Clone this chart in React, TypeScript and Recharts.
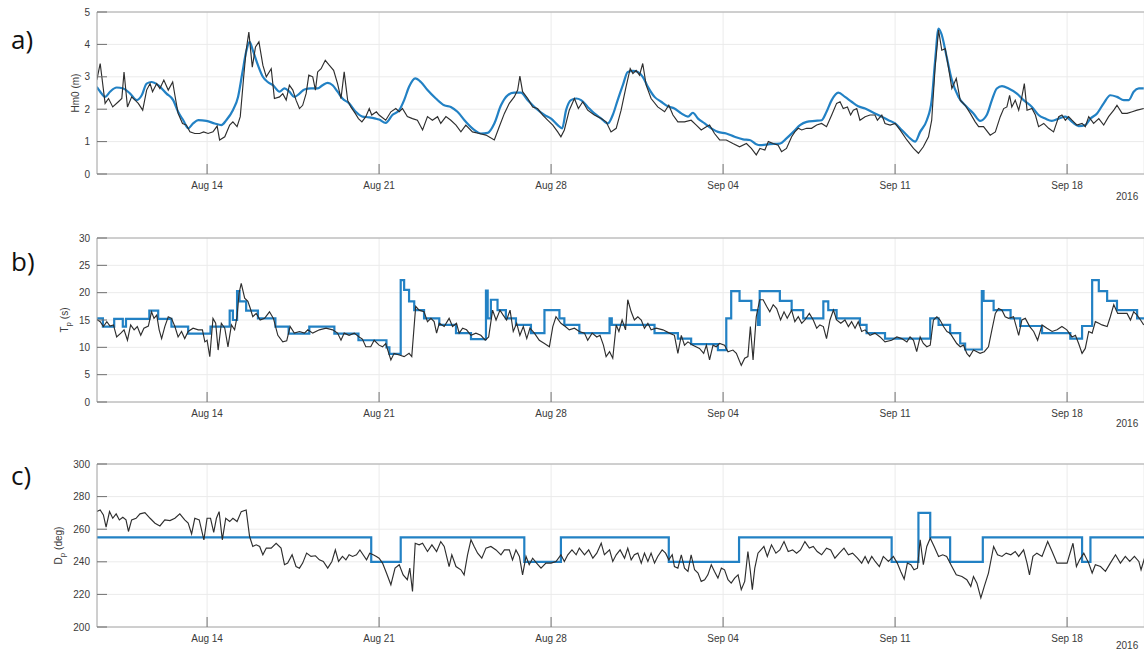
import { LineChart, Line, XAxis, YAxis, CartesianGrid, ReferenceLine } from 'recharts';

// time axis: days since Aug 1 2016 00:00
const weekTicks = [13, 20, 27, 34, 41, 48];
const weekLabels = ['Aug 14', 'Aug 21', 'Aug 28', 'Sep 04', 'Sep 11', 'Sep 18'];
const timeDomain = [8.52, 51.13];

const hsTicks = [0, 1, 2, 3, 4, 5];
const tpTicks = [0, 5, 10, 15, 20, 25, 30];
const dpTicks = [200, 220, 240, 260, 280, 300];

// a) significant wave height, measured (black) and modelled (blue)
const hsObs = [
  [8.51, 2.9], [8.65, 3.41], [8.85, 2.18], [8.99, 2.33], [9.16, 2.07], [9.39, 2.23], [9.53, 2.33], [9.62, 3.15],
  [9.76, 2.07], [9.93, 2.38], [10.07, 2.28], [10.2, 2.18], [10.38, 1.97], [10.54, 2.59], [10.68, 2.79], [10.78, 2.54],
  [10.95, 2.79], [11.08, 2.64], [11.24, 2.9], [11.42, 2.59], [11.6, 2.84], [11.69, 2.43], [11.82, 1.87], [12.0, 1.56],
  [12.16, 1.51], [12.3, 1.3], [12.5, 1.25], [12.7, 1.25], [12.86, 1.3], [13.04, 1.25], [13.24, 1.3], [13.41, 1.48],
  [13.51, 1.05], [13.72, 1.15], [13.92, 1.51], [14.05, 1.61], [14.22, 1.46], [14.35, 1.77], [14.49, 3.0], [14.59, 3.82],
  [14.7, 4.38], [14.84, 3.3], [14.97, 3.92], [15.11, 4.08], [15.27, 3.36], [15.41, 3.0], [15.61, 3.25], [15.74, 2.33],
  [15.95, 2.38], [16.08, 2.48], [16.22, 2.28], [16.35, 2.74], [16.49, 2.59], [16.62, 2.28], [16.76, 2.02], [16.89, 2.12],
  [17.03, 2.48], [17.14, 3.05], [17.3, 3.0], [17.41, 2.59], [17.5, 3.15], [17.64, 3.25], [17.81, 3.51], [17.97, 3.36],
  [18.15, 3.2], [18.31, 2.79], [18.45, 2.33], [18.58, 3.15], [18.72, 2.28], [18.85, 2.07], [19.03, 1.87], [19.16, 1.71],
  [19.3, 1.61], [19.46, 1.77], [19.6, 2.02], [19.7, 1.82], [19.89, 1.92], [20.0, 1.82], [20.27, 1.66], [20.48, 1.92],
  [20.68, 2.02], [20.82, 1.92], [20.95, 2.02], [21.15, 1.77], [21.36, 1.71], [21.56, 1.66], [21.77, 1.36], [21.97, 1.77],
  [22.17, 1.66], [22.38, 1.77], [22.51, 1.56], [22.72, 1.77], [22.92, 1.66], [23.13, 1.51], [23.33, 1.3], [23.53, 1.51],
  [23.8, 1.3], [24.08, 1.25], [24.35, 1.2], [24.69, 1.05], [24.89, 1.46], [25.1, 1.87], [25.3, 2.18], [25.5, 2.38],
  [25.64, 2.59], [25.73, 3.02], [25.84, 2.54], [26.05, 2.33], [26.25, 2.07], [26.45, 2.02], [26.66, 1.82], [26.86, 1.66],
  [27.07, 1.51], [27.27, 1.3], [27.4, 1.15], [27.54, 1.36], [27.74, 1.97], [27.95, 2.33], [28.11, 2.02], [28.29, 2.23],
  [28.49, 1.97], [28.76, 1.82], [29.04, 1.71], [29.24, 1.61], [29.44, 1.3], [29.65, 1.41], [29.85, 1.97], [30.05, 2.69],
  [30.22, 3.25], [30.33, 3.1], [30.46, 3.2], [30.6, 3.05], [30.73, 3.41], [30.87, 2.74], [31.07, 2.33], [31.34, 2.07],
  [31.62, 1.92], [31.79, 2.12], [31.96, 1.82], [32.16, 1.61], [32.43, 1.61], [32.7, 1.66], [32.91, 1.51], [33.11, 1.36],
  [33.32, 1.46], [33.45, 1.51], [33.65, 1.25], [33.86, 1.05], [34.13, 1.05], [34.4, 0.94], [34.67, 0.84], [34.95, 0.94],
  [35.15, 0.79], [35.35, 0.59], [35.5, 0.79], [35.7, 0.74], [35.84, 1.0], [36.04, 0.94], [36.24, 0.89], [36.38, 0.69],
  [36.58, 0.79], [36.79, 1.15], [36.92, 1.3], [37.06, 1.41], [37.2, 1.36], [37.4, 1.41], [37.6, 1.41], [37.81, 1.51],
  [38.01, 1.56], [38.21, 1.46], [38.42, 1.82], [38.62, 2.18], [38.76, 2.23], [38.89, 2.02], [39.06, 2.07], [39.19, 1.82],
  [39.3, 1.97], [39.44, 2.02], [39.57, 1.66], [39.78, 1.77], [39.98, 1.82], [40.18, 1.82], [40.28, 1.66], [40.46, 1.82],
  [40.59, 1.56], [40.8, 1.51], [41.0, 1.56], [41.2, 1.36], [41.48, 1.05], [41.75, 0.79], [41.95, 0.64], [42.15, 0.84],
  [42.36, 1.15], [42.49, 1.66], [42.63, 3.3], [42.77, 4.44], [42.9, 3.82], [43.04, 3.87], [43.17, 3.3], [43.31, 2.64],
  [43.49, 2.95], [43.65, 2.28], [43.85, 2.12], [44.06, 1.87], [44.26, 1.61], [44.4, 1.46], [44.6, 1.46], [44.87, 1.2],
  [45.08, 1.3], [45.28, 1.77], [45.42, 2.02], [45.55, 2.07], [45.66, 2.43], [45.75, 2.07], [45.89, 2.28], [46.03, 1.97],
  [46.16, 2.38], [46.26, 2.79], [46.37, 1.97], [46.57, 2.02], [46.71, 1.82], [46.84, 1.46], [47.05, 1.56], [47.25, 1.41],
  [47.45, 1.3], [47.66, 1.77], [47.79, 1.82], [47.93, 1.66], [48.06, 1.77], [48.2, 1.66], [48.4, 1.51], [48.61, 1.56],
  [48.74, 1.46], [48.88, 1.77], [49.08, 1.56], [49.29, 1.71], [49.49, 1.51], [49.69, 1.77], [49.9, 1.97], [50.03, 2.12],
  [50.24, 1.87], [50.44, 1.87], [50.65, 1.92], [50.85, 1.97], [51.12, 2.02],
];

const hsModel = [
  [8.51, 2.69], [8.65, 2.54], [8.85, 2.38], [9.05, 2.54], [9.32, 2.67], [9.59, 2.64], [9.87, 2.48], [10.14, 2.28],
  [10.34, 2.43], [10.54, 2.79], [10.74, 2.84], [11.01, 2.74], [11.35, 2.48], [11.62, 2.28], [11.82, 1.92], [12.03, 1.66],
  [12.23, 1.41], [12.43, 1.56], [12.64, 1.66], [12.97, 1.64], [13.31, 1.56], [13.58, 1.51], [13.78, 1.66], [14.05, 1.97],
  [14.26, 2.38], [14.43, 3.1], [14.59, 3.77], [14.73, 4.08], [14.86, 3.82], [15.07, 3.36], [15.27, 3.0], [15.47, 2.84],
  [15.68, 2.74], [15.95, 2.54], [16.15, 2.64], [16.35, 2.54], [16.55, 2.38], [16.76, 2.48], [16.96, 2.61], [17.23, 2.64],
  [17.5, 2.64], [17.7, 2.74], [17.91, 2.81], [18.11, 2.74], [18.31, 2.54], [18.51, 2.33], [18.78, 2.18], [19.05, 1.92],
  [19.32, 1.77], [19.6, 1.75], [19.86, 1.71], [20.0, 1.68], [20.27, 1.58], [20.54, 1.82], [20.82, 1.97], [21.02, 2.28],
  [21.22, 2.69], [21.47, 2.95], [21.7, 2.84], [21.97, 2.59], [22.31, 2.33], [22.65, 2.12], [22.92, 2.07], [23.19, 1.92],
  [23.53, 1.61], [23.87, 1.36], [24.14, 1.25], [24.42, 1.27], [24.69, 1.56], [24.96, 2.12], [25.23, 2.43], [25.5, 2.51],
  [25.77, 2.51], [26.05, 2.28], [26.39, 2.02], [26.73, 1.82], [27.0, 1.71], [27.27, 1.51], [27.45, 1.41], [27.61, 1.97],
  [27.81, 2.28], [28.02, 2.33], [28.22, 2.28], [28.49, 2.07], [28.76, 1.87], [29.04, 1.71], [29.31, 1.56], [29.51, 1.82],
  [29.71, 2.28], [29.92, 2.74], [30.12, 3.15], [30.33, 3.18], [30.53, 3.15], [30.73, 3.0], [30.94, 2.69], [31.21, 2.38],
  [31.48, 2.23], [31.75, 2.09], [32.02, 2.02], [32.3, 1.87], [32.57, 1.77], [32.77, 1.89], [32.98, 1.71], [33.25, 1.56],
  [33.52, 1.41], [33.79, 1.3], [34.13, 1.25], [34.47, 1.15], [34.81, 1.07], [35.08, 1.05], [35.35, 0.92], [35.5, 0.89],
  [35.9, 0.92], [36.31, 0.94], [36.58, 1.1], [36.86, 1.3], [37.13, 1.51], [37.4, 1.61], [37.74, 1.64], [38.01, 1.66],
  [38.21, 1.92], [38.42, 2.28], [38.69, 2.51], [38.96, 2.38], [39.23, 2.23], [39.5, 2.09], [39.78, 2.02], [40.12, 1.89],
  [40.46, 1.77], [40.73, 1.66], [41.0, 1.56], [41.27, 1.36], [41.54, 1.15], [41.82, 1.0], [42.02, 1.3], [42.29, 1.66],
  [42.49, 2.28], [42.63, 3.51], [42.77, 4.49], [42.9, 4.29], [43.1, 3.61], [43.31, 2.9], [43.58, 2.38], [43.92, 2.07],
  [44.19, 1.87], [44.46, 1.64], [44.73, 1.82], [44.94, 2.28], [45.14, 2.64], [45.35, 2.71], [45.62, 2.64], [45.96, 2.48],
  [46.23, 2.28], [46.57, 2.07], [46.84, 1.82], [47.11, 1.71], [47.38, 1.64], [47.66, 1.71], [47.93, 1.77], [48.2, 1.61],
  [48.47, 1.48], [48.74, 1.51], [48.95, 1.71], [49.22, 1.87], [49.49, 2.18], [49.76, 2.43], [50.03, 2.38], [50.31, 2.28],
  [50.51, 2.28], [50.71, 2.54], [50.92, 2.64], [51.12, 2.64],
];

// b) peak period
const tpObs = [
  [8.51, 15.1], [8.65, 14.7], [8.78, 13.8], [8.92, 14.7], [9.05, 13.9], [9.19, 14.1], [9.32, 11.9], [9.49, 12.6],
  [9.62, 13.2], [9.76, 11.3], [9.89, 14.1], [10.03, 13.2], [10.16, 13.8], [10.3, 12.2], [10.43, 13.5], [10.61, 13.9],
  [10.74, 16.5], [10.84, 15.3], [10.95, 15.9], [11.05, 13.2], [11.15, 11.6], [11.28, 13.8], [11.42, 15.6], [11.55, 15.3],
  [11.69, 13.8], [11.82, 11.9], [11.96, 12.9], [12.09, 11.6], [12.23, 12.9], [12.43, 13.5], [12.64, 13.2], [12.81, 13.2],
  [12.91, 11.0], [13.0, 11.3], [13.11, 8.3], [13.24, 15.3], [13.35, 14.4], [13.45, 9.5], [13.58, 14.4], [13.72, 13.5],
  [13.85, 10.1], [13.99, 14.1], [14.12, 13.2], [14.22, 15.6], [14.3, 19.9], [14.39, 21.7], [14.53, 19.0], [14.66, 18.4],
  [14.76, 17.1], [14.86, 15.6], [15.0, 16.2], [15.16, 15.0], [15.34, 15.3], [15.54, 16.5], [15.7, 15.3], [15.88, 12.2],
  [16.08, 11.0], [16.24, 11.2], [16.38, 13.8], [16.55, 12.6], [16.76, 12.9], [16.96, 12.6], [17.1, 13.2], [17.3, 12.6],
  [17.57, 13.2], [17.84, 13.5], [18.11, 13.2], [18.31, 12.6], [18.45, 11.3], [18.58, 12.6], [18.78, 12.2], [18.99, 12.6],
  [19.19, 11.9], [19.32, 11.5], [19.46, 10.1], [19.66, 10.1], [19.8, 11.3], [20.0, 10.4], [20.14, 10.1], [20.27, 10.7],
  [20.48, 7.7], [20.61, 8.9], [20.82, 8.6], [21.02, 8.3], [21.22, 8.9], [21.33, 8.3], [21.49, 17.5], [21.63, 16.8],
  [21.83, 16.5], [21.97, 14.7], [22.11, 15.3], [22.24, 14.7], [22.34, 12.6], [22.45, 14.4], [22.65, 13.8], [22.85, 15.3],
  [22.99, 13.8], [23.15, 14.4], [23.26, 12.6], [23.4, 13.5], [23.56, 13.2], [23.74, 12.2], [23.94, 12.6], [24.14, 12.2],
  [24.32, 11.3], [24.46, 11.9], [24.62, 16.8], [24.76, 15.0], [24.92, 16.8], [25.05, 15.9], [25.19, 15.0], [25.33, 16.8],
  [25.46, 12.9], [25.6, 14.4], [25.73, 12.2], [25.87, 13.8], [26.01, 11.6], [26.14, 13.5], [26.32, 12.6], [26.52, 11.3],
  [26.73, 10.7], [26.93, 10.1], [27.07, 13.8], [27.2, 15.6], [27.4, 14.4], [27.58, 13.8], [27.74, 13.2], [27.95, 13.5],
  [28.15, 12.9], [28.36, 12.6], [28.49, 11.3], [28.67, 12.6], [28.86, 11.9], [28.99, 12.2], [29.13, 10.4], [29.24, 8.3],
  [29.38, 9.2], [29.51, 8.0], [29.65, 14.1], [29.76, 12.9], [29.89, 15.0], [30.03, 13.2], [30.12, 18.7], [30.26, 16.5],
  [30.39, 15.0], [30.53, 15.6], [30.67, 15.0], [30.8, 13.5], [30.94, 14.4], [31.07, 13.2], [31.28, 13.5], [31.55, 13.2],
  [31.82, 12.6], [32.02, 12.2], [32.16, 8.9], [32.3, 12.2], [32.43, 10.4], [32.57, 11.0], [32.77, 10.4], [33.04, 9.8],
  [33.21, 8.9], [33.32, 10.4], [33.45, 7.7], [33.59, 10.4], [33.72, 10.1], [33.86, 10.7], [34.06, 10.4], [34.2, 9.2],
  [34.4, 9.5], [34.54, 8.9], [34.74, 6.7], [34.88, 8.0], [35.01, 8.3], [35.11, 13.8], [35.22, 7.7], [35.35, 15.6],
  [35.49, 18.7], [35.63, 18.7], [35.77, 17.5], [35.9, 16.5], [36.04, 17.8], [36.18, 17.1], [36.34, 15.0], [36.48, 16.5],
  [36.61, 15.3], [36.79, 16.8], [36.92, 14.7], [37.06, 15.6], [37.2, 14.4], [37.33, 15.0], [37.51, 16.2], [37.67, 15.0],
  [37.81, 13.5], [37.94, 14.1], [38.08, 13.8], [38.21, 11.6], [38.35, 15.0], [38.49, 16.8], [38.62, 15.0], [38.79, 14.4],
  [38.96, 15.0], [39.1, 13.8], [39.23, 14.7], [39.37, 13.5], [39.5, 14.7], [39.64, 12.9], [39.78, 13.2], [39.98, 12.2],
  [40.18, 12.6], [40.39, 11.9], [40.59, 11.0], [40.86, 11.3], [41.07, 11.9], [41.27, 11.6], [41.48, 11.0], [41.61, 11.9],
  [41.75, 11.3], [41.88, 9.2], [42.02, 11.9], [42.15, 10.7], [42.29, 10.1], [42.43, 10.4], [42.56, 15.0], [42.7, 15.6],
  [42.83, 15.0], [42.97, 13.8], [43.11, 12.9], [43.24, 12.6], [43.38, 11.6], [43.51, 10.7], [43.65, 10.1], [43.78, 10.4],
  [43.92, 8.9], [44.03, 8.3], [44.19, 9.5], [44.33, 9.2], [44.46, 8.9], [44.63, 9.2], [44.8, 10.1], [44.94, 13.2],
  [45.08, 16.2], [45.21, 17.1], [45.35, 16.8], [45.48, 15.6], [45.62, 15.3], [45.82, 15.6], [46.03, 12.2], [46.16, 15.0],
  [46.3, 15.3], [46.48, 13.8], [46.64, 12.9], [46.8, 11.3], [46.98, 14.1], [47.18, 13.5], [47.39, 12.9], [47.59, 13.2],
  [47.79, 13.8], [47.99, 13.2], [48.2, 11.9], [48.34, 12.2], [48.47, 10.7], [48.61, 8.9], [48.74, 9.8], [48.88, 12.9],
  [49.02, 12.6], [49.15, 14.7], [49.29, 14.4], [49.42, 14.1], [49.63, 13.8], [49.76, 15.6], [49.9, 17.8], [50.06, 16.2],
  [50.24, 16.2], [50.44, 16.2], [50.58, 15.0], [50.71, 16.5], [50.85, 15.9], [50.99, 15.0], [51.12, 14.1],
];

const tpModel = [
  [8.51, 15.3], [8.76, 13.8], [9.22, 15.2], [9.57, 13.8], [9.7, 15.2], [10.65, 16.7], [11.01, 15.2], [11.55, 13.8],
  [12.23, 12.5], [13.14, 13.8], [13.92, 16.7], [14.05, 15.0], [14.22, 20.3], [14.32, 18.4], [14.59, 16.7], [15.07, 15.3],
  [15.78, 13.8], [16.32, 12.5], [17.16, 13.8], [18.18, 12.5], [19.16, 11.3], [20.3, 10.0], [20.42, 8.8], [20.88, 22.3],
  [21.02, 20.5], [21.22, 18.4], [21.43, 16.8], [21.83, 15.3], [22.45, 14.1], [23.13, 12.6], [23.74, 11.5], [24.35, 20.4],
  [24.42, 15.3], [24.55, 18.7], [24.82, 16.8], [25.16, 15.3], [25.57, 14.1], [26.18, 12.6], [26.73, 16.8], [27.34, 15.3],
  [27.54, 14.1], [28.15, 12.6], [29.38, 15.3], [29.47, 14.1], [31.21, 12.6], [32.16, 11.6], [32.7, 10.6], [33.79, 9.5],
  [34.13, 15.3], [34.33, 20.3], [34.67, 18.5], [35.15, 16.8], [35.42, 14.1], [35.49, 20.3], [36.31, 18.5], [36.79, 16.8],
  [37.26, 15.3], [38.08, 18.4], [38.28, 16.8], [38.62, 15.3], [39.57, 14.1], [39.84, 12.6], [40.59, 11.6], [42.43, 15.3],
  [42.77, 14.1], [43.24, 12.6], [43.65, 10.7], [43.85, 9.6], [44.53, 20.3], [44.6, 18.5], [45.01, 16.8], [45.7, 15.3],
  [46.09, 13.9], [46.98, 12.6], [48.13, 11.6], [48.61, 13.9], [49.02, 22.3], [49.29, 20.3], [49.63, 18.5], [50.03, 16.8],
  [50.85, 15.3], [51.15, 15.3],
];

// c) peak direction
const dpObs = [
  [8.51, 270.8], [8.65, 271.8], [8.78, 268.8], [8.89, 261.2], [9.03, 270.8], [9.16, 266.7], [9.3, 269.4], [9.43, 265.7],
  [9.57, 267.3], [9.7, 265.7], [9.8, 258.6], [9.93, 265.7], [10.11, 266.7], [10.27, 269.4], [10.47, 270.2], [10.68, 266.7],
  [10.88, 263.7], [11.08, 262.0], [11.28, 265.7], [11.49, 265.3], [11.69, 266.7], [11.89, 269.4], [12.09, 265.7], [12.23, 263.7],
  [12.37, 257.1], [12.5, 266.7], [12.68, 265.7], [12.87, 253.5], [13.0, 266.7], [13.14, 266.7], [13.27, 258.0], [13.38, 266.7],
  [13.49, 270.8], [13.62, 253.5], [13.76, 266.7], [13.92, 264.7], [14.05, 266.7], [14.22, 264.7], [14.39, 270.8], [14.59, 271.8],
  [14.73, 255.5], [14.86, 249.4], [15.0, 250.4], [15.14, 249.4], [15.27, 244.3], [15.41, 248.4], [15.61, 248.4], [15.81, 251.4],
  [16.01, 248.4], [16.15, 238.2], [16.28, 239.2], [16.46, 244.3], [16.62, 237.1], [16.76, 236.1], [16.89, 239.2], [17.05, 245.3],
  [17.23, 243.3], [17.41, 243.7], [17.57, 241.2], [17.73, 240.2], [17.91, 236.1], [18.08, 240.2], [18.22, 247.3], [18.35, 240.2],
  [18.51, 243.3], [18.65, 241.2], [18.78, 244.3], [18.92, 243.3], [19.08, 244.3], [19.22, 247.3], [19.35, 244.3], [19.49, 241.2],
  [19.62, 245.3], [19.76, 244.3], [19.89, 243.3], [20.0, 242.2], [20.14, 239.2], [20.3, 233.1], [20.48, 225.9], [20.65, 236.1],
  [20.82, 238.2], [20.98, 232.0], [21.15, 229.0], [21.25, 236.1], [21.36, 221.8], [21.47, 251.4], [21.63, 250.4], [21.77, 251.4],
  [21.97, 246.3], [22.15, 250.4], [22.34, 246.3], [22.51, 252.4], [22.65, 249.4], [22.85, 237.1], [22.96, 244.3], [23.13, 237.1],
  [23.33, 235.1], [23.46, 232.0], [23.6, 244.3], [23.74, 253.5], [23.87, 249.4], [24.01, 245.3], [24.18, 242.2], [24.35, 248.4],
  [24.55, 249.4], [24.76, 247.3], [24.96, 244.3], [25.1, 247.3], [25.3, 247.3], [25.43, 241.2], [25.57, 247.3], [25.71, 243.3],
  [25.84, 232.0], [25.98, 243.3], [26.11, 238.2], [26.25, 242.2], [26.41, 239.2], [26.59, 236.1], [26.79, 239.2], [27.0, 239.2],
  [27.2, 240.2], [27.4, 244.3], [27.54, 240.2], [27.68, 244.3], [27.85, 247.3], [28.02, 244.3], [28.15, 248.4], [28.36, 244.3],
  [28.53, 247.3], [28.7, 242.2], [28.86, 245.3], [29.04, 251.4], [29.17, 244.3], [29.38, 247.3], [29.51, 240.2], [29.65, 244.3],
  [29.81, 247.3], [29.99, 242.2], [30.12, 248.4], [30.26, 241.2], [30.39, 244.3], [30.53, 245.3], [30.67, 239.2], [30.8, 245.3],
  [30.94, 240.2], [31.07, 245.3], [31.21, 239.2], [31.34, 243.3], [31.52, 247.3], [31.66, 245.3], [31.79, 241.2], [31.93, 244.3],
  [32.02, 237.1], [32.16, 236.1], [32.3, 244.3], [32.43, 236.1], [32.57, 234.1], [32.7, 244.3], [32.84, 235.1], [32.98, 233.1],
  [33.11, 228.0], [33.25, 229.0], [33.38, 232.0], [33.52, 238.2], [33.65, 234.1], [33.79, 230.0], [33.93, 236.1], [34.06, 235.1],
  [34.2, 229.0], [34.33, 226.9], [34.47, 230.0], [34.61, 232.0], [34.74, 222.9], [34.88, 228.0], [35.01, 246.3], [35.11, 234.1],
  [35.19, 222.9], [35.29, 236.1], [35.42, 245.3], [35.66, 249.4], [35.8, 243.3], [35.97, 250.4], [36.15, 245.3], [36.31, 247.3],
  [36.48, 252.4], [36.65, 246.3], [36.83, 247.3], [36.99, 245.3], [37.15, 247.3], [37.33, 252.4], [37.51, 248.4], [37.67, 249.4],
  [37.83, 246.3], [38.01, 244.3], [38.21, 248.4], [38.38, 247.3], [38.55, 242.2], [38.73, 245.3], [38.92, 248.4], [39.1, 244.3],
  [39.27, 245.3], [39.47, 242.2], [39.64, 239.2], [39.78, 243.3], [39.91, 239.2], [40.05, 243.3], [40.19, 240.2], [40.36, 237.1],
  [40.52, 243.3], [40.73, 240.2], [40.93, 243.3], [41.09, 239.2], [41.23, 234.1], [41.37, 229.4], [41.5, 239.2], [41.64, 238.2],
  [41.77, 235.1], [41.91, 236.1], [42.02, 253.5], [42.15, 238.2], [42.29, 249.4], [42.43, 254.5], [42.59, 249.4], [42.77, 243.3],
  [42.94, 244.3], [43.1, 243.3], [43.31, 237.1], [43.49, 232.0], [43.72, 231.0], [43.92, 229.0], [44.08, 224.9], [44.19, 231.0],
  [44.33, 226.9], [44.49, 217.8], [44.63, 224.9], [44.8, 233.1], [45.01, 249.4], [45.17, 244.3], [45.35, 243.3], [45.52, 245.3],
  [45.71, 244.3], [45.89, 246.3], [46.03, 243.3], [46.23, 247.3], [46.37, 239.2], [46.47, 232.0], [46.61, 243.3], [46.77, 245.3],
  [46.98, 243.3], [47.21, 252.4], [47.39, 246.3], [47.59, 239.2], [47.79, 239.2], [48.0, 239.2], [48.24, 251.4], [48.38, 237.1],
  [48.51, 241.2], [48.68, 245.3], [48.88, 239.2], [49.02, 233.1], [49.15, 238.2], [49.36, 237.1], [49.56, 234.1], [49.76, 239.2],
  [49.97, 244.3], [50.17, 239.2], [50.37, 243.3], [50.55, 240.2], [50.74, 243.3], [50.92, 240.2], [51.01, 235.1], [51.15, 242.2],
];

const dpModel = [
  [8.51, 255], [19.68, 240], [20.88, 255], [25.91, 240], [27.4, 255], [31.79, 240], [34.65, 255], [40.86, 240],
  [41.95, 270], [42.43, 255], [43.24, 240], [44.57, 255], [48.61, 240], [48.95, 255], [51.15, 255],
];

const toRows = (pts: number[][]) => pts.map(([t, v]) => ({ t, v }));

const FONT = '"Liberation Sans", Arial, Helvetica, sans-serif';
const TEXT = '#3a3a3a';
const BLUE = '#2281c4';
const BOX = '#a8a8a8';

interface PanelProps {
  top: number;
  plotHeight: number;
  obs: number[][];
  model: number[][];
  modelType: 'monotone' | 'stepAfter';
  yDomain: number[];
  yTicks: number[];
  titleX: number;
  title: string;
  sub?: string;
  unit?: string;
}

function Panel({ top, plotHeight, obs, model, modelType, yDomain, yTicks, titleX, title, sub, unit }: PanelProps) {
  const cy = 12 + plotHeight / 2;
  const renderTitle = () => (
    <text
      transform={`translate(${titleX},${cy}) rotate(-90)`}
      textAnchor="middle"
      fontSize={10}
      fill={TEXT}
      fontFamily={FONT}
    >
      {title}
      {sub && (
        <tspan dy={3} fontSize={8}>
          {sub}
        </tspan>
      )}
      {unit && <tspan dy={sub ? -3 : 0}>{' ' + unit}</tspan>}
    </text>
  );

  return (
    <div style={{ position: 'absolute', left: 0, top }}>
      <LineChart width={1144} height={12 + plotHeight + 30} margin={{ top: 12, right: 0, bottom: 0, left: 0 }}>
        <CartesianGrid stroke="#ebebeb" />
        <XAxis
          dataKey="t"
          type="number"
          domain={timeDomain}
          allowDataOverflow
          ticks={weekTicks}
          interval={0}
          tickFormatter={(t: number) => weekLabels[weekTicks.indexOf(t)]}
          tick={{ fill: TEXT, fontSize: 10, fontFamily: FONT }}
          tickSize={-10}
          tickMargin={18}
          height={30}
          axisLine={{ stroke: BOX }}
          tickLine={{ stroke: '#707070' }}
        />
        <XAxis
          xAxisId="top"
          orientation="top"
          type="number"
          domain={timeDomain}
          allowDataOverflow
          ticks={weekTicks}
          interval={0}
          tick={false}
          tickSize={-10}
          height={0}
          axisLine={false}
          tickLine={{ stroke: '#707070' }}
        />
        <YAxis
          type="number"
          domain={yDomain}
          ticks={yTicks}
          interval={0}
          width={97}
          tick={{ fill: TEXT, fontSize: 10, fontFamily: FONT }}
          tickSize={-10}
          tickMargin={17}
          axisLine={{ stroke: BOX }}
          tickLine={{ stroke: '#707070' }}
          label={{ content: renderTitle }}
        />
        <ReferenceLine y={yDomain[1]} stroke={BOX} />
        <Line
          data={toRows(model)}
          dataKey="v"
          type={modelType}
          stroke={BLUE}
          strokeWidth={2.2}
          dot={false}
          isAnimationActive={false}
        />
        <Line
          data={toRows(obs)}
          dataKey="v"
          type="linear"
          stroke="#2e2e2e"
          strokeWidth={1.15}
          dot={false}
          isAnimationActive={false}
        />
      </LineChart>
    </div>
  );
}

const panelLabel = (text: string, top: number) => (
  <div
    style={{
      position: 'absolute',
      left: 11,
      top,
      fontFamily: '"Open Sans", "Noto Sans", sans-serif',
      fontSize: 26,
      lineHeight: '30px',
      color: '#111',
    }}
  >
    {text}
  </div>
);

const yearLabel = (top: number) => (
  <div
    style={{
      position: 'absolute',
      left: 1116,
      top,
      fontFamily: FONT,
      fontSize: 10,
      lineHeight: '12px',
      color: TEXT,
    }}
  >
    2016
  </div>
);

export default function App() {
  return (
    <div
      style={{
        position: 'absolute',
        left: 0,
        top: 0,
        width: 1144,
        height: 653,
        overflow: 'hidden',
        background: '#fff',
      }}
    >
      {panelLabel('a)', 24)}
      {panelLabel('b)', 246)}
      {panelLabel('c)', 460)}
      <Panel
        top={0}
        plotHeight={162}
        obs={hsObs}
        model={hsModel}
        modelType="monotone"
        yDomain={[0, 5]}
        yTicks={hsTicks}
        titleX={79}
        title="Hm0 (m)"
      />
      <Panel
        top={226}
        plotHeight={164}
        obs={tpObs}
        model={tpModel}
        modelType="stepAfter"
        yDomain={[0, 30]}
        yTicks={tpTicks}
        titleX={68}
        title="T"
        sub="p"
        unit="(s)"
      />
      <Panel
        top={452}
        plotHeight={163}
        obs={dpObs}
        model={dpModel}
        modelType="stepAfter"
        yDomain={[200, 300]}
        yTicks={dpTicks}
        titleX={62}
        title="D"
        sub="p"
        unit="(deg)"
      />
      {yearLabel(191)}
      {yearLabel(418)}
      {yearLabel(640)}
    </div>
  );
}
